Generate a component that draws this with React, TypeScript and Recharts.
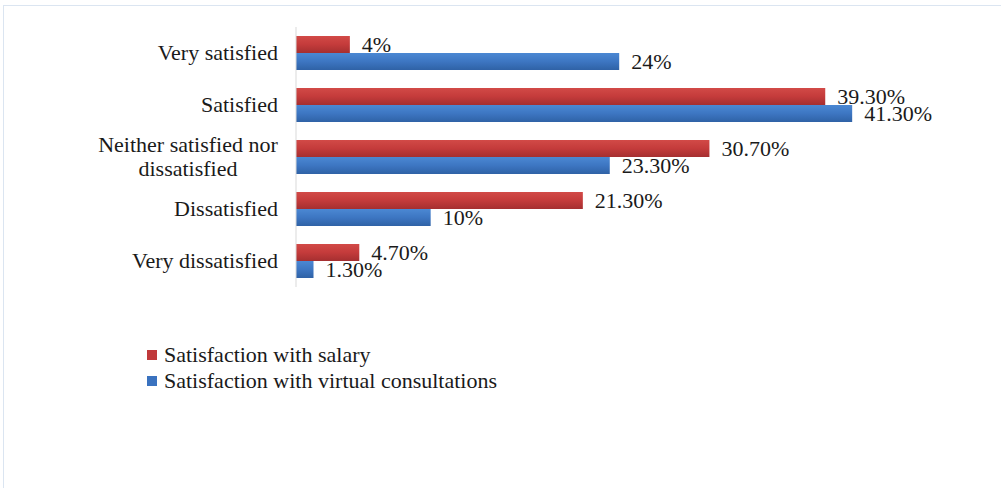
import React from 'react';
import { BarChart, Bar, XAxis, YAxis, LabelList } from 'recharts';

const categories = [
  'Very satisfied',
  'Satisfied',
  'Neither satisfied nor dissatisfied',
  'Dissatisfied',
  'Very dissatisfied',
];
const salary = [4, 39.3, 30.7, 21.3, 4.7];
const virtualConsult = [24, 41.3, 23.3, 10, 1.3];
const seriesNames = ['Satisfaction with salary', 'Satisfaction with virtual consultations'];
const seriesColors = ['#c0393b', '#3a72bf'];

const chartData = categories.map((name, i) => ({
  name,
  salary: salary[i],
  virtual: virtualConsult[i],
}));

const FONT = '"Liberation Serif", "Times New Roman", serif';
const TEXT = '#1a1a1a';
const FS = 22;

const fmt = (v: any) => (Number.isInteger(v) ? `${v}%` : `${Number(v).toFixed(2)}%`);

function wrap(label: string, max = 21) {
  const words = label.split(' ');
  const lines: string[] = [];
  let cur = '';
  words.forEach((w) => {
    const next = cur ? cur + ' ' + w : w;
    if (next.length > max && cur) {
      lines.push(cur);
      cur = w;
    } else cur = next;
  });
  if (cur) lines.push(cur);
  return lines;
}

const CategoryTick = ({ x, y, payload }: any) => {
  const lines = wrap(payload.value);
  if (lines.length === 1) {
    return (
      <text x={x - 10} y={y} dy={7} textAnchor="end" fontFamily={FONT} fontSize={FS} fill={TEXT}>
        {lines[0]}
      </text>
    );
  }
  return (
    <text x={x - 100} y={y} textAnchor="middle" fontFamily={FONT} fontSize={FS} fill={TEXT}>
      {lines.map((l, i) => (
        <tspan key={i} x={x - 100} dy={i === 0 ? -5 : 24}>
          {l}
        </tspan>
      ))}
    </text>
  );
};

export default function App() {
  return (
    <div style={{ position: 'absolute', left: 0, top: 0, width: 1001, height: 488, background: '#fff', overflow: 'hidden' }}>
      <div
        style={{
          position: 'absolute',
          left: 3,
          top: 5,
          width: 1020,
          height: 520,
          border: '1px solid #dbe5f1',
        }}
      />
      <BarChart
        width={1001}
        height={488}
        data={chartData}
        layout="vertical"
        margin={{ top: 27, right: 99, bottom: 201, left: 0 }}
        barGap={0}
        barSize={17}
      >
        <defs>
          <linearGradient id="gradRed" x1="0" y1="0" x2="0" y2="1">
            <stop offset="0%" stopColor="#d24a47" />
            <stop offset="50%" stopColor="#c43b3b" />
            <stop offset="100%" stopColor="#a52f30" />
          </linearGradient>
          <linearGradient id="gradBlue" x1="0" y1="0" x2="0" y2="1">
            <stop offset="0%" stopColor="#4b88d3" />
            <stop offset="50%" stopColor="#3d76c2" />
            <stop offset="100%" stopColor="#2f62a6" />
          </linearGradient>
        </defs>
        <XAxis type="number" domain={[0, 45]} hide />
        <YAxis
          type="category"
          dataKey="name"
          width={296}
          axisLine={{ stroke: '#d9d9d9' }}
          tickLine={false}
          tick={<CategoryTick />}
          interval={0}
        />
        <Bar dataKey="salary" name={seriesNames[0]} fill="url(#gradRed)" isAnimationActive={false}>
          <LabelList dataKey="salary" position="right" offset={12} formatter={fmt} fill={TEXT} fontFamily={FONT} fontSize={FS} />
        </Bar>
        <Bar dataKey="virtual" name={seriesNames[1]} fill="url(#gradBlue)" isAnimationActive={false}>
          <LabelList dataKey="virtual" position="right" offset={12} formatter={fmt} fill={TEXT} fontFamily={FONT} fontSize={FS} />
        </Bar>
      </BarChart>
      <div style={{ position: 'absolute', left: 147, top: 342, fontFamily: FONT, fontSize: FS, color: TEXT }}>
        {seriesNames.map((s, i) => (
          <div key={s} style={{ display: 'flex', alignItems: 'center', height: 26, whiteSpace: 'nowrap' }}>
            <span
              style={{
                display: 'inline-block',
                width: 10,
                height: 10,
                marginRight: 7,
                background: seriesColors[i],
              }}
            />
            {s}
          </div>
        ))}
      </div>
    </div>
  );
}
